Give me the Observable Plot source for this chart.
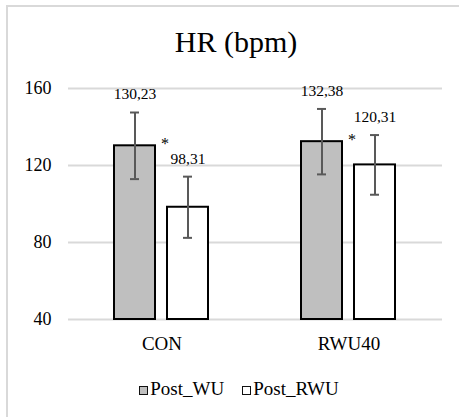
<!DOCTYPE html>
<html>
<head>
<meta charset="utf-8">
<script src="https://cdn.jsdelivr.net/npm/d3@7"></script>
<script src="https://cdn.jsdelivr.net/npm/@observablehq/plot@0.6"></script>
<style>
  html body #wrap, html body #wrap * { font-family: 'Liberation Serif', 'Times New Roman', serif !important; }
  body { margin: 0; background: #fff; }
  #wrap { position: relative; width: 459px; height: 417px; overflow: hidden; background: #fff; color: #000; }
  #frame { position: absolute; left: 6px; top: 5px; width: 480px; height: 440px;
           border: 2px solid #d9d9d9; box-sizing: border-box; }
  #chart { position: absolute; left: 0; top: 0; }
  #title { position: absolute; left: 0; top: 26.5px; width: 472px; text-align: center;
           font-size: 30px; line-height: 1; }
  #legend { position: absolute; left: 0; top: 379px; width: 478px; display: flex; justify-content: center;
            font-size: 19px; line-height: 1; }
  .item { display: flex; align-items: center; margin: 0 9px; }
  .sw { width: 9px; height: 9px; border: 1.5px solid #111; box-sizing: border-box; margin-right: 2px; margin-top: 3px; }
</style>
</head>
<body>
<div id="wrap">
  <div id="frame"></div>
  <div id="chart"></div>
  <div id="title">HR (bpm)</div>
  <div id="legend"></div>
</div>
<script>
const groups = ["CON", "RWU40"];
const series = ["Post_WU", "Post_RWU"];
const postWU = [130.23, 132.38];
const postRWU = [98.31, 120.31];
const sdWU = [17.3, 17.0];
const sdRWU = [15.9, 15.5];
const significant = [true, true];
const yTicks = [40, 80, 120, 160];
const colors = ["#bfbfbf", "#ffffff"];

const rows = [];
groups.forEach((g, i) => {
  rows.push({group: g, series: series[0], value: postWU[i], sd: sdWU[i]});
  rows.push({group: g, series: series[1], value: postRWU[i], sd: sdRWU[i]});
});
const stars = groups.map((g, i) => ({group: g, sig: significant[i], wu: postWU[i]})).filter(d => d.sig);
const fmt = v => v.toFixed(2).replace(".", ",");
const serif = "Liberation Serif";

const plot = Plot.plot({
  width: 459,
  height: 417,
  marginTop: 88,
  marginBottom: 98,
  marginLeft: 67,
  marginRight: 17,
  style: {fontFamily: serif, fontSize: "18px", color: "#000", background: "transparent"},
  fx: {domain: groups, paddingInner: 0, paddingOuter: 0, label: null, axis: null},
  x: {domain: series, paddingInner: 0.222, paddingOuter: 0.847, axis: null},
  y: {domain: [40, 160], axis: null},
  color: {domain: series, range: colors},
  marks: [
    Plot.ruleY(yTicks, {y: d => d, stroke: "#d9d9d9", strokeWidth: 2}),
    Plot.barY(rows, {fx: "group", x: "series", y1: 40, y2: "value", fill: "series", stroke: "#000", strokeWidth: 2}),
    Plot.ruleX(rows, {fx: "group", x: "series", y1: d => d.value - d.sd, y2: d => d.value + d.sd, stroke: "#595959", strokeWidth: 2}),
    Plot.tickY(rows, {fx: "group", x: "series", y: d => d.value + d.sd, stroke: "#595959", strokeWidth: 2, insetLeft: 16, insetRight: 16}),
    Plot.tickY(rows, {fx: "group", x: "series", y: d => d.value - d.sd, stroke: "#595959", strokeWidth: 2, insetLeft: 16, insetRight: 16}),
    Plot.text(rows, {fx: "group", x: "series", y: d => d.value + d.sd, text: d => fmt(d.value), dy: -18, fontSize: 15.5, fill: "#000", fontFamily: serif}),
    Plot.text(stars, {fx: "group", x: () => series[1], y: "wu", text: () => "*", dx: -23, dy: -2, fontSize: 16, fill: "#000", fontFamily: serif}),
    Plot.axisY(yTicks, {tickSize: 0, tickPadding: 17, fontSize: 18, label: null, tickFormat: d => String(d), fontFamily: serif}),
    Plot.axisFx({tickSize: 0, tickPadding: 17, fontSize: 19, label: null, anchor: "bottom", fontFamily: serif})
  ]
});
document.getElementById("chart").appendChild(plot);

const legend = document.getElementById("legend");
series.forEach((s, i) => {
  const item = document.createElement("div");
  item.className = "item";
  const sw = document.createElement("span");
  sw.className = "sw";
  sw.style.background = colors[i];
  const t = document.createElement("span");
  t.textContent = s;
  item.appendChild(sw);
  item.appendChild(t);
  legend.appendChild(item);
});
</script>
</body>
</html>
